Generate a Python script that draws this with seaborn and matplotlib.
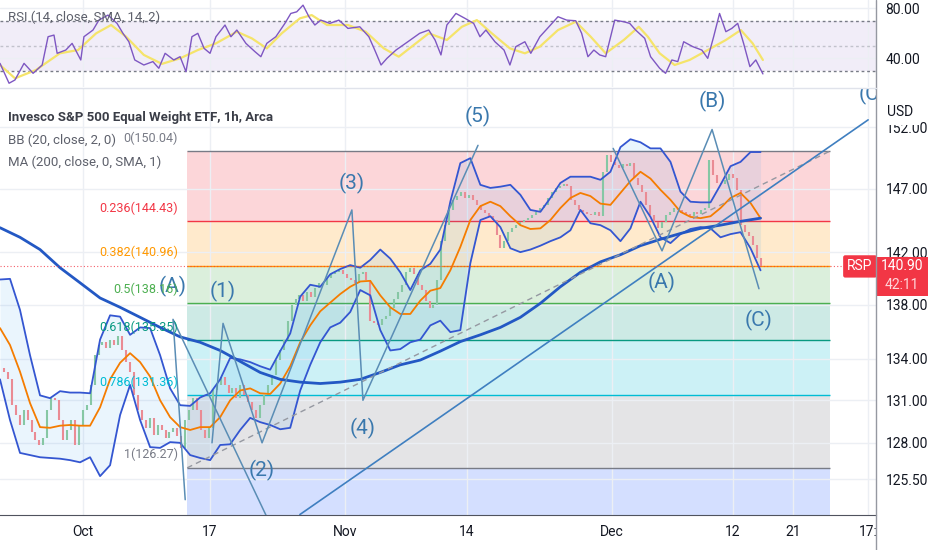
import numpy as np
import matplotlib
matplotlib.use('Agg')
import matplotlib.pyplot as plt
from matplotlib.lines import Line2D
from matplotlib.patches import Rectangle
from matplotlib.ticker import NullLocator
import matplotlib.transforms as mtrans
import seaborn as sns

# hourly closes, RSP
close = [133.35, 133.06, 132.5, 130.65, 129.95, 129.25, 130.3, 129.6, 128.75, 128.2,
         127.85, 128.35, 130.3, 131.15, 131.0, 129.6, 128.2, 128.9, 129.6, 127.85,
         129.25, 130.3, 130.65, 132.1, 134.25, 135.0, 135.2, 134.75, 135.4, 135.0,
         135.7, 134.6, 133.75, 133.05, 131.35, 130.3, 129.6, 129.05, 129.75, 128.55,
         129.25, 128.9, 128.35, 128.75, 129.05, 128.5, 127.65, 129.6, 130.3, 131.15,
         130.3, 128.9, 128.35, 129.05, 131.7, 132.1, 132.65, 132.1, 131.55, 131.85,
         131.15, 132.1, 131.35, 130.85, 130.3, 129.75, 130.65, 131.35, 132.1, 132.85,
         133.9, 134.6, 135.4, 136.8, 137.95, 138.45, 138.7, 138.3, 138.95, 138.6,
         139.25, 139.65, 139.5, 140.05, 140.3, 140.5, 140.6, 140.35, 140.05, 139.9,
         139.65, 140.3, 140.5, 139.9, 136.8, 136.65, 136.45, 136.95, 137.15, 137.75,
         138.45, 138.95, 139.5, 140.5, 140.8, 140.3, 139.5, 139.1, 138.3, 137.75,
         137.95, 139.9, 142.9, 144.1, 145.3, 146.1, 146.4, 146.75, 146.25, 146.5,
         146.1, 145.7, 145.3, 145.05, 144.8, 144.5, 143.3, 142.3, 142.9, 143.55,
         143.85, 144.1, 144.35, 144.5, 144.65, 144.9, 145.15, 145.45, 145.7, 146.25,
         146.75, 147.05, 147.2, 147.35, 147.2, 146.1, 145.7, 145.3, 145.15, 144.95,
         144.9, 145.15, 144.8, 148.35, 149.7, 149.15, 148.9, 148.65, 148.95, 148.8,
         149.05, 147.85, 147.3, 146.75, 145.7, 144.9, 144.35, 143.85, 144.35, 144.9,
         145.15, 145.45, 145.3, 145.15, 144.95, 144.8, 145.15, 144.95, 145.3, 145.45,
         149.3, 148.1, 147.45, 147.35, 147.7, 148.2, 147.85, 146.9, 144.1, 143.55,
         143.25, 142.55, 141.55, 140.9]

# Bollinger bands (20, 2) sampled along the bars
band_t = np.linspace(0, 193, 77)
bb_upper = [139.9, 139.95, 137.6, 134.25, 131.35, 131.15, 131.65, 131.55, 131.55, 131.5,
            135.4, 137.2, 137.1, 135.75, 136.3, 136.25, 134.25, 131.85, 130.65, 130.6,
            131.2, 131.5, 132.5, 134.05, 133.95, 133.75, 133.45, 133.2, 134.55, 135.85,
            138.6, 139.5, 139.35, 140.3, 140.7, 141.0, 140.8, 141.4, 142.2, 141.5,
            140.45, 139.1, 140.6, 141.1, 142.2, 145.95, 149.05, 149.45, 147.3, 147.05,
            147.15, 147.3, 146.5, 145.3, 145.15, 146.25, 147.45, 147.95, 147.95, 147.95,
            147.7, 148.35, 150.35, 151.0, 150.75, 150.25, 150.25, 149.15, 146.75, 145.95,
            145.9, 145.9, 147.3, 148.8, 149.15, 149.95, 149.95]
bb_lower = [132.5, 129.6, 127.3, 127.15, 127.0, 126.95, 126.9, 126.8, 126.65, 127.0,
            125.7, 126.45, 129.95, 132.1, 129.6, 127.7, 127.65, 128.05, 128.0, 127.15,
            126.95, 126.8, 127.85, 127.9, 128.9, 129.75, 129.45, 129.25, 128.95, 129.05,
            131.7, 133.55, 135.2, 136.3, 136.65, 137.45, 139.1, 138.7, 136.1, 134.6,
            134.7, 135.2, 135.4, 136.45, 136.8, 135.95, 136.1, 141.15, 144.5, 144.8,
            143.95, 142.3, 142.0, 142.2, 142.5, 142.85, 143.15, 143.7, 145.3, 144.25,
            144.1, 143.7, 142.85, 143.85, 145.95, 144.75, 143.15, 142.7, 143.4, 143.8,
            143.95, 143.85, 143.15, 143.4, 143.55, 142.3, 140.6]
bb_basis = [136.25, 135.0, 133.05, 130.8, 129.1, 129.05, 129.2, 129.25, 129.2, 129.2,
            130.5, 132.5, 133.7, 134.4, 133.75, 132.7, 131.0, 129.8, 129.1, 128.9,
            129.1, 129.1, 129.8, 131.0, 131.7, 131.85, 131.5, 131.45, 132.2, 133.45,
            135.2, 136.45, 137.5, 138.15, 138.8, 139.35, 139.75, 139.8, 138.7, 137.8,
            137.3, 137.3, 138.3, 139.05, 139.25, 140.6, 142.4, 144.5, 145.6, 145.95,
            145.6, 144.8, 144.1, 143.8, 143.85, 144.5, 145.45, 146.25, 146.65, 146.4,
            145.8, 145.7, 146.65, 147.6, 148.35, 147.8, 146.9, 146.1, 145.15, 144.75,
            144.65, 144.8, 145.45, 146.25, 146.65, 145.85, 144.65]

# MA 200
ma_t = np.linspace(0, 193, 39)
ma200 = [143.9, 143.15, 142.2, 140.8, 139.65, 138.5, 137.8, 137.05, 136.3, 135.6,
         135.2, 134.6, 133.8, 133.0, 132.5, 132.3, 132.2, 132.3, 132.5, 133.0,
         133.55, 133.9, 134.55, 135.25, 135.75, 136.3, 137.05, 138.1, 139.35, 140.45,
         141.25, 141.8, 142.5, 143.0, 143.45, 143.85, 144.1, 144.4, 144.65]

# RSI 14 and its SMA 14
rsi_t = [0, 2.3, 3.8, 6.1, 8.4, 10.7, 12.2, 13.7, 14.5, 16.7,
         18.3, 20.5, 21.3, 23.6, 25.1, 27.4, 29.7, 31.2, 32.7, 34.2,
         36.5, 38.8, 40.3, 41.9, 44.1, 45.7, 47.2, 48.7, 50.2, 51.8,
         53.3, 54.8, 57.1, 58.6, 60.1, 62.4, 64.7, 66.2, 67.7, 70.0,
         72.3, 73.8, 75.3, 76.9, 78.4, 79.9, 81.4, 83.7, 86.0, 88.3,
         91.3, 93.6, 95.1, 96.7, 98.2, 100.5, 103.5, 106.5, 108.8, 110.4,
         111.9, 113.4, 115.7, 118.0, 120.2, 121.8, 123.3, 125.6, 127.9, 129.4,
         130.9, 133.2, 134.7, 137.0, 139.3, 141.6, 143.8, 146.1, 147.6, 149.2,
         150.7, 152.2, 153.7, 156.0, 158.3, 159.8, 161.3, 163.6, 165.1, 167.4,
         168.9, 170.5, 172.0, 173.5, 175.8, 178.1, 179.6, 181.1, 182.6, 184.2,
         185.7, 187.2, 188.7, 190.3, 191.8, 193.6]
rsi = [36.1, 20.3, 22.9, 36.1, 28.2, 34.8, 57.3, 58.6, 44.1, 46.7,
       52, 38.8, 57.3, 62.6, 70.5, 74.5, 67.9, 60, 53.3, 38.8,
       34.8, 37.5, 32.2, 44.1, 38.8, 41.4, 29.5, 57.3, 60, 48,
       44.1, 57.3, 66.6, 57.3, 62.6, 52, 45.4, 41.4, 52, 57.3,
       67.9, 75.8, 77.1, 82.4, 73.2, 66.6, 70.5, 67.9, 70.5, 63.9,
       65.2, 57.3, 46.7, 34.8, 40.1, 46.7, 53.3, 60, 62.6, 54.7,
       42.8, 66.6, 75.8, 71.9, 67.9, 57.3, 62.6, 53.3, 46.7, 34.8,
       49.4, 53.3, 44.1, 57.3, 65.2, 73.2, 70.5, 70, 60, 41.4,
       46.7, 42.8, 41.4, 70.5, 69.2, 67.9, 62.6, 56, 41.4, 32.2,
       28.2, 38.8, 37.5, 53.3, 49.4, 46.7, 40.1, 57.3, 75.8, 61.3,
       63.9, 67.9, 52, 33.5, 38.8, 27.7]
rsi_ma_t = [0, 3.8, 9.1, 15.2, 19.8, 24.4, 28.2, 32.0, 36.5, 41.1,
            45.7, 50.2, 54.8, 60.1, 63.9, 67.7, 71.5, 76.1, 79.1, 83.0,
            88.3, 92.8, 97.4, 101.2, 105.0, 108.8, 113.4, 117.2, 121.0, 124.8,
            129.4, 133.2, 137.0, 141.6, 146.1, 149.9, 153.7, 158.3, 162.1, 164.4,
            167.4, 171.2, 175.0, 179.6, 184.2, 188.0, 191.0, 193.6]
rsi_ma = [34.8, 24.2, 30.8, 44.1, 46.7, 60, 66.6, 57.3, 42.8, 35.7,
          40.1, 46.7, 52, 61.3, 56, 48, 60, 71.9, 74.5, 66.6,
          66.6, 61.3, 48, 41.4, 50.7, 60, 54.7, 65.2, 70.5, 60,
          48, 44.1, 49.4, 62.6, 69.2, 57.3, 44.1, 54.7, 65.2, 57.3,
          44.1, 34.8, 38.8, 46.7, 54.7, 62.6, 52, 38.8]

# Fibonacci retracement
fib_ratios = ['0', '0.236', '0.382', '0.5', '0.618', '0.786', '1']
fib_prices = [150.04, 144.43, 140.96, 138.16, 135.35, 131.36, 126.27]
fib_colors = ['#787b86', '#f23645', '#ff9800', '#4caf50', '#089981', '#00bcd4', '#787b86']
fib_ext_color = '#2962ff'
fib_start, fib_end = 47.5, 210.7

# Elliott wave drawing
wave_x = [53.8, 56.6, 66.5, 89.3, 92.1, 121.3]
wave_p = [128.0, 136.6, 128.0, 145.3, 131.0, 150.5]
abc_x = [155.6, 168.0, 180.7, 192.6]
abc_p = [150.25, 142.1, 151.8, 139.2]
prior_x = [47.0, 43.9, 68.5]
prior_p = [124.1, 136.9, 122.5]
trend_x = [76.1, 220.3]
trend_p = [123.1, 152.6]
wave_labels = ['(A)', '(1)', '(2)', '(3)', '(4)', '(5)', '(A)', '(B)', '(C)', '(C)']
label_x = [43.7, 56.6, 66.5, 89.3, 92.1, 121.3, 168.0, 180.7, 192.6, 221.5]
label_p = [139.4, 139.0, 126.1, 147.4, 129.0, 152.9, 139.7, 154.1, 136.8, 154.7]

price_ticks = [125.5, 128, 131, 134, 138, 142, 147, 152]
tick_pos = [21.07, 53.3, 87.56, 118.5, 155.3, 186.0, 201.3, 220.3]
tick_labels = ['Oct', '17', 'Nov', '14', 'Dec', '12', '21', '17:']
last_price = 140.90

sns.set_style('white')
plt.rcParams['font.family'] = ['Roboto', 'DejaVu Sans']
W, H = 932, 550
grid_c = '#eceff4'
text_c = '#131722'
fs = 10

fig = plt.figure(figsize=(W / 100, H / 100), dpi=100)
ax_rsi = fig.add_axes([0, 1 - 87 / H, 876 / W, 87 / H])
ax = fig.add_axes([0, 35 / H, 876 / W, (515 - 88) / H])

# ---- price pane
ax.set_yscale('log')
for i in range(1, len(fib_prices)):
    ax.fill_between([fib_start, fib_end], fib_prices[i], fib_prices[i - 1],
                    color=fib_colors[i], alpha=0.2, lw=0, zorder=0.5)
ax.fill_between([fib_start, fib_end], 110, fib_prices[-1], color=fib_ext_color,
                alpha=0.2, lw=0, zorder=0.5)
ax.hlines(fib_prices, fib_start, fib_end, colors=fib_colors, lw=1, zorder=0.6)
for r, p, c in zip(fib_ratios, fib_prices, fib_colors):
    ax.annotate(f'{r}({p:.2f})', xy=(45.2, p), xytext=(0, 9.4), textcoords='offset points',
                ha='right', va='center', color=c, fontsize=9, zorder=6)
ax.plot([fib_start, fib_end], [fib_prices[-1], fib_prices[0]], color='#9598a1',
        lw=1, ls=(0, (4, 3)), zorder=3.5)

ax.fill_between(band_t, bb_lower, bb_upper, color='#2196f3', alpha=0.09, lw=0, zorder=1)

bars = np.arange(len(close))
opens = np.array([close[0]] + close[:-1])
closes = np.array(close)
up = closes >= opens
ax.vlines(bars[up], opens[up], closes[up], color='#86c7a4', lw=1.5, zorder=2)
ax.vlines(bars[~up], opens[~up], closes[~up], color='#ea8b94', lw=1.5, zorder=2)

sns.lineplot(x=band_t, y=bb_upper, ax=ax, color='#3456d1', lw=1.3, zorder=3)
sns.lineplot(x=band_t, y=bb_lower, ax=ax, color='#3456d1', lw=1.3, zorder=3)
sns.lineplot(x=band_t, y=bb_basis, ax=ax, color='#f57c00', lw=1.3, zorder=3)
sns.lineplot(x=ma_t, y=ma200, ax=ax, color='#2358c4', lw=2, zorder=3)

wave_c = '#5a8db5'
ax.plot(wave_x, wave_p, color=wave_c, lw=1.1, zorder=4)
ax.plot(abc_x, abc_p, color=wave_c, lw=1.1, zorder=4)
ax.plot(prior_x, prior_p, color=wave_c, lw=1.1, zorder=4)
ax.plot(trend_x, trend_p, color='#3f7fc0', lw=1.2, zorder=4)
for t, x, p in zip(wave_labels, label_x, label_p):
    ax.text(x, p, t, color='#3a78ad', fontsize=15, ha='center', va='center', zorder=5,
            clip_on=True)

ax.axhline(last_price, color='#f23645', lw=0.8, ls=(0, (1, 2)), alpha=0.8, zorder=4)

ax.set_xlim(0, 222.3)
ax.set_ylim(123.07, 155.27)
ax.yaxis.tick_right()
ax.set_yticks(price_ticks, [f'{v:.2f}' for v in price_ticks])
ax.yaxis.set_minor_locator(NullLocator())
ax.set_xticks(tick_pos, tick_labels)
ax.tick_params(axis='y', length=0, pad=7, labelsize=fs, labelcolor=text_c)
ax.tick_params(axis='x', length=0, pad=7, labelsize=fs, labelcolor=text_c)
ax.grid(True, color=grid_c, lw=1)
ax.set_axisbelow(True)
for s in ['top', 'left', 'right']:
    ax.spines[s].set_visible(False)
ax.spines['bottom'].set_color('#50535e')

ax.text(8 / 876, 0.932, 'Invesco S&P 500 Equal Weight ETF, 1h, Arca', transform=ax.transAxes,
        fontsize=9.5, fontweight='bold', color='#3a3d47', va='center', ha='left', zorder=7)
ax.text(8 / 876, 0.878, 'BB (20, close, 2, 0)', transform=ax.transAxes,
        fontsize=9.5, color='#5d606b', va='center', ha='left', zorder=7)
ax.text(8 / 876, 0.827, 'MA (200, close, 0, SMA, 1)', transform=ax.transAxes,
        fontsize=9.5, color='#5d606b', va='center', ha='left', zorder=7)

# ---- RSI pane
ax_rsi.axhspan(30, 70, color='#7e57c2', alpha=0.1, lw=0, zorder=0.5)
ax_rsi.axhline(70, color='#787b86', lw=1, ls=(0, (2, 2)), zorder=1)
ax_rsi.axhline(30, color='#787b86', lw=1, ls=(0, (2, 2)), zorder=1)
ax_rsi.axhline(50, color='#a3a6af', lw=1, ls=(0, (2, 2)), alpha=0.6, zorder=1)
sns.lineplot(x=rsi_ma_t, y=rsi_ma, ax=ax_rsi, color='#f5e46a', lw=1.6, zorder=2)
sns.lineplot(x=rsi_t, y=rsi, ax=ax_rsi, color='#7e57c2', lw=1, zorder=3)
ax_rsi.set_xlim(0, 222.3)
ax_rsi.set_ylim(17.3, 86.5)
ax_rsi.yaxis.tick_right()
ax_rsi.set_yticks([40, 80], ['40.00', '80.00'])
ax_rsi.set_xticks(tick_pos, [])
ax_rsi.tick_params(axis='both', length=0, pad=7, labelsize=fs, labelcolor=text_c)
ax_rsi.grid(True, color=grid_c, lw=1)
ax_rsi.set_axisbelow(True)
for s in ax_rsi.spines.values():
    s.set_visible(False)
ax_rsi.text(8 / 876, 0.805, 'RSI (14, close, SMA, 14, 2)', transform=ax_rsi.transAxes,
            fontsize=9.5, color='#5d606b', va='center', ha='left', zorder=7)

# ---- frame, tags
fig.add_artist(Line2D([876 / W, 876 / W], [0, 1], color='#9598a1', lw=1))
fig.add_artist(Line2D([0, 876 / W], [1 - 87.5 / H, 1 - 87.5 / H], color='#e0e3eb', lw=1))
fig.text(887 / W, 1 - 112 / H, 'USD', fontsize=fs, color=text_c, va='center', ha='left',
         bbox=dict(facecolor='white', edgecolor='none', pad=4))

blend = mtrans.blended_transform_factory(ax.transAxes, ax.transData)
ax.text(860 / 876, last_price, 'RSP', transform=blend, color='white', fontsize=fs,
        ha='center', va='center', zorder=8,
        bbox=dict(boxstyle='round,pad=0.3,rounding_size=0.15', facecolor='#f23645', edgecolor='none'))
fig.add_artist(Rectangle((877 / W, 1 - 296 / H), 51 / W, 39 / H, transform=fig.transFigure,
                         facecolor='#f23645', edgecolor='none'))
fig.text(902 / W, 1 - 266 / H, f'{last_price:.2f}', color='white', fontsize=fs,
         ha='center', va='center')
fig.text(902 / W, 1 - 285 / H, '42:11', color='#ffd6da', fontsize=fs,
         ha='center', va='center')

fig.savefig('out.png', dpi=100)
